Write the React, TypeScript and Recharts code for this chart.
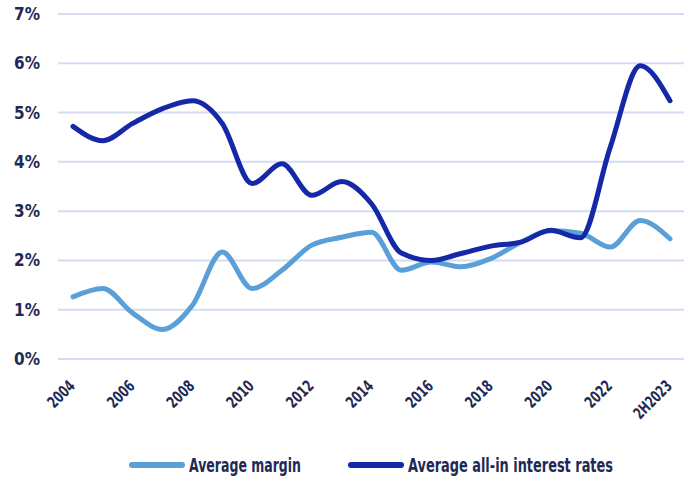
import { LineChart, Line, XAxis, YAxis, CartesianGrid, Legend } from "recharts"

const years = [
  "2004", "2005", "2006", "2007", "2008", "2009", "2010", "2011", "2012", "2013", "2014",
  "2015", "2016", "2017", "2018", "2019", "2020", "2021", "2022", "1H2023", "2H2023",
]
const avgMargin = [
  1.26, 1.43, 0.93, 0.6, 1.09, 2.17, 1.43, 1.8, 2.31, 2.47, 2.57,
  1.8, 1.97, 1.87, 2.04, 2.37, 2.6, 2.55, 2.27, 2.81, 2.44,
]
const allInRates = [
  4.72, 4.43, 4.78, 5.08, 5.24, 4.78, 3.56, 3.96, 3.32, 3.6, 3.15,
  2.15, 2.0, 2.14, 2.29, 2.37, 2.61, 2.46, 4.3, 5.95, 5.24,
]
const yTicks = [0, 1, 2, 3, 4, 5, 6, 7]

const data = years.map((year, i) => ({ year, margin: avgMargin[i], rates: allInRates[i] }))

const FONT = "'DejaVu Sans Condensed', 'DejaVu Sans', sans-serif"
const INK = "#1e2a55"
const LIGHT = "#5b9fd8"
const DARK = "#1428a8"

function XTick({ x, y, payload, index }: any) {
  // every other year, plus the final half-year
  if (index % 2 !== 0) return null
  const label = String(payload.value)
  return (
    <text
      transform={`translate(${x + 3},${y + 20}) rotate(-45)`}
      textAnchor="end"
      fontFamily={FONT}
      fontWeight={700}
      fontSize={16}
      fill={INK}
      textLength={label.length * 7.8}
      lengthAdjust="spacingAndGlyphs"
    >
      {label}
    </text>
  )
}

// the source uses a tall condensed face, so squeeze the text to its width.
// each svg gets spare room on the right (cancelled by a negative margin)
// so the unsqueezed glyph box still fits inside it
const SPARE = 80

function LegendContent() {
  const items = [
    { label: "Average margin", color: LIGHT, textWidth: 112 },
    { label: "Average all-in interest rates", color: DARK, textWidth: 205 },
  ]
  return (
    <div style={{ display: "flex", justifyContent: "center", height: 30 }}>
      {items.map((it, i) => (
        <svg
          key={it.label}
          width={60 + it.textWidth + SPARE}
          height={30}
          style={{ display: "block", marginRight: i === 0 ? 47 - SPARE : -SPARE }}
        >
          <line x1={3} x2={53} y1={15} y2={15} stroke={it.color} strokeWidth={6} strokeLinecap="round" />
          <text
            x={60}
            y={22}
            fontFamily={FONT}
            fontWeight={700}
            fontSize={19}
            fill={INK}
            textLength={it.textWidth}
            lengthAdjust="spacingAndGlyphs"
          >
            {it.label}
          </text>
        </svg>
      ))}
    </div>
  )
}

export default function App() {
  return (
    <div style={{ position: "absolute", left: 0, top: 0, width: 692, height: 480 }}>
      <LineChart width={692} height={480} data={data} margin={{ top: 14, right: 8, bottom: 0, left: 0 }}>
        <CartesianGrid vertical={false} stroke="#d3dcf0" strokeWidth={2} />
        <XAxis
          dataKey="year"
          interval={0}
          axisLine={false}
          tickLine={false}
          height={91}
          padding={{ left: 15, right: 14 }}
          tick={<XTick />}
        />
        <YAxis
          domain={[0, 7]}
          ticks={yTicks}
          width={58}
          axisLine={false}
          tickLine={false}
          tickFormatter={(v) => `${v}%`}
          tick={{ fontFamily: FONT, fontWeight: 700, fontSize: 17, fill: INK, dx: -10 }}
        />
        <Legend
          verticalAlign="bottom"
          height={30}
          content={<LegendContent />}
          wrapperStyle={{ top: 450, left: 58, width: 626, height: 30 }}
        />
        <Line
          type="monotone"
          dataKey="margin"
          stroke={LIGHT}
          strokeWidth={5}
          dot={false}
          strokeLinecap="round"
          isAnimationActive={false}
        />
        <Line
          type="monotone"
          dataKey="rates"
          stroke={DARK}
          strokeWidth={5}
          dot={false}
          strokeLinecap="round"
          isAnimationActive={false}
        />
      </LineChart>
    </div>
  )
}
